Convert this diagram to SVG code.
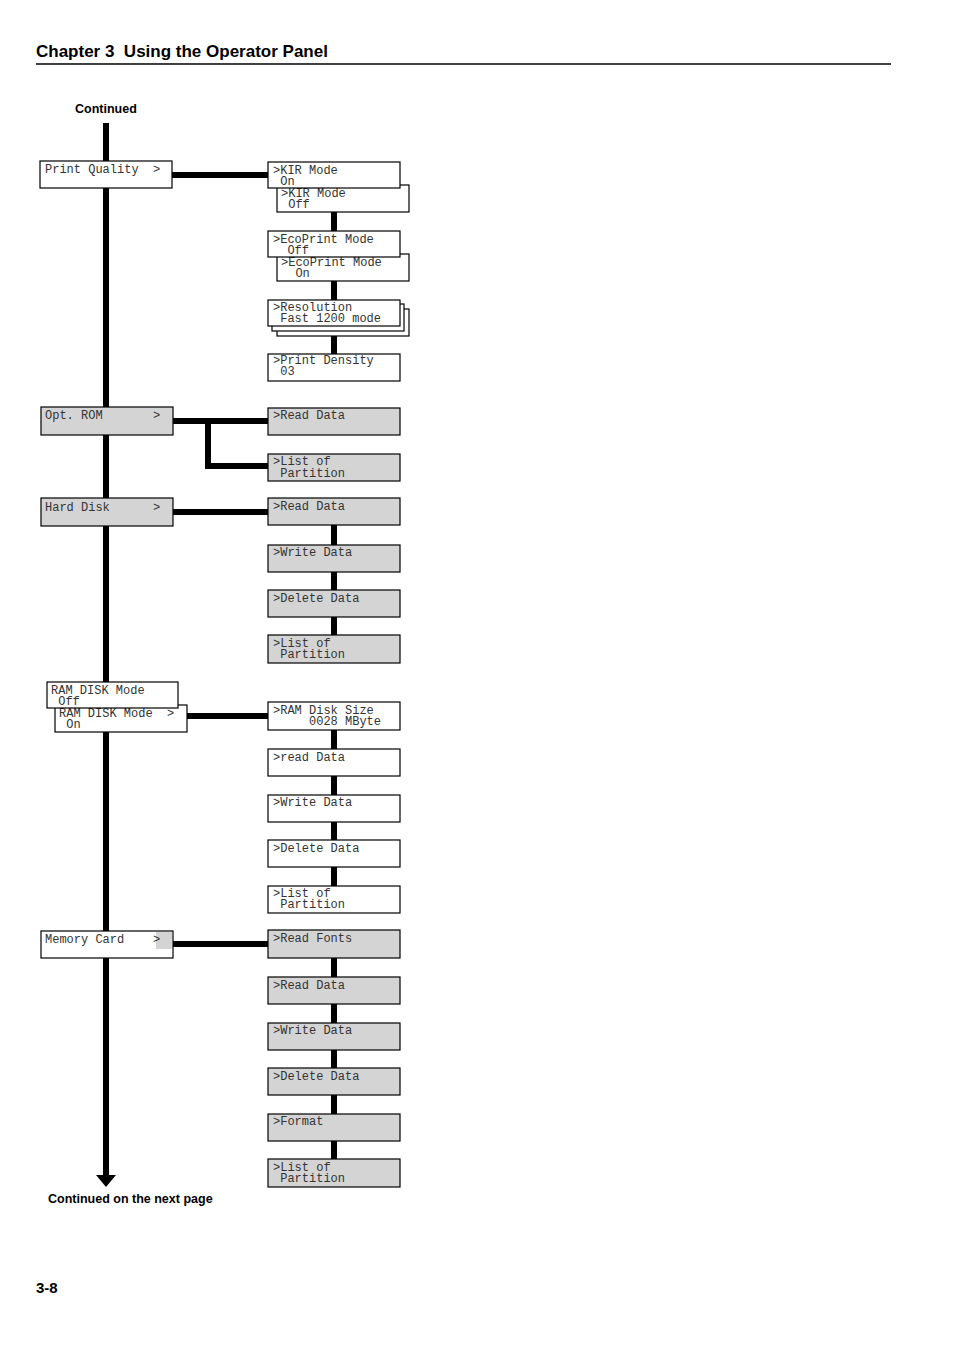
<svg xmlns="http://www.w3.org/2000/svg" width="954" height="1351" viewBox="0 0 954 1351">
<style>
.b{stroke:#000;stroke-width:1.2}
.w{fill:#fff}.g{fill:#d4d4d4}
.t{font-family:"Liberation Mono",monospace;font-size:12px;fill:#333;white-space:pre}
.h{font-family:"Liberation Sans",Arial,sans-serif;font-weight:bold;fill:#000;white-space:pre}
.c{stroke:#000;stroke-width:6;fill:none}
</style>
<rect width="954" height="1351" fill="#fff"/>
<text class="h" x="36" y="57" font-size="17">Chapter 3  Using the Operator Panel</text>
<line x1="36" y1="64" x2="891" y2="64" stroke="#000" stroke-width="1.5"/>
<text class="h" x="75" y="113" font-size="12.5">Continued</text>
<text class="h" x="48" y="1203" font-size="12.5">Continued on the next page</text>
<text class="h" x="36" y="1293" font-size="15">3-8</text>
<g id="connectors">
<line class="c" x1="106" y1="123" x2="106" y2="1177"/>
<polygon points="96,1175 116,1175 106,1187" fill="#000"/>
<line class="c" x1="172" y1="175" x2="268" y2="175"/>
<path class="c" d="M173 421H268M208 421V466H268"/>
<line class="c" x1="173" y1="512" x2="268" y2="512"/>
<line class="c" x1="187" y1="716" x2="268" y2="716"/>
<line class="c" x1="173" y1="944" x2="268" y2="944"/>
<path class="c" d="M334 212V231M334 281V300M334 336V354M334 525V545M334 572V590M334 617V635M334 730V749M334 776V795M334 822V840M334 867V886M334 958V977M334 1004V1023M334 1050V1068M334 1095V1114M334 1141V1159"/>
</g>
<g id="pq"><rect class="b w" x="40" y="161" width="132" height="27"/><text class="t" x="45" y="173">Print Quality  &gt;</text></g>
<g id="kir"><rect class="b w" x="277" y="185" width="132" height="27"/><text class="t" x="281" y="197">&gt;KIR Mode</text><text class="t" x="281" y="208"> Off</text>
<rect class="b w" x="268" y="162" width="132" height="26"/><text class="t" x="273" y="174">&gt;KIR Mode</text><text class="t" x="273" y="185"> On</text></g>
<g id="eco"><rect class="b w" x="277" y="254" width="132" height="27"/><text class="t" x="281" y="266">&gt;EcoPrint Mode</text><text class="t" x="281" y="277">  On</text>
<rect class="b w" x="268" y="231" width="132" height="26"/><text class="t" x="273" y="243">&gt;EcoPrint Mode</text><text class="t" x="273" y="254">  Off</text></g>
<g id="res"><rect class="b w" x="277" y="309" width="132" height="27"/><rect class="b w" x="272" y="304" width="132" height="27"/><rect class="b w" x="268" y="300" width="132" height="26"/><text class="t" x="273" y="311">&gt;Resolution</text><text class="t" x="273" y="322"> Fast 1200 mode</text></g>
<g id="pd"><rect class="b w" x="268" y="354" width="132" height="27"/><text class="t" x="273" y="364">&gt;Print Density</text><text class="t" x="273" y="375"> 03</text></g>
<g id="optrom"><rect class="b g" x="41" y="407" width="132" height="28"/><text class="t" x="45" y="419">Opt. ROM       &gt;</text></g>
<g id="or1"><rect class="b g" x="268" y="408" width="132" height="27"/><text class="t" x="273" y="419">&gt;Read Data</text></g>
<g id="or2"><rect class="b g" x="268" y="454" width="132" height="27"/><text class="t" x="273" y="465">&gt;List of</text><text class="t" x="273" y="477"> Partition</text></g>
<g id="hd"><rect class="b g" x="41" y="498" width="132" height="28"/><text class="t" x="45" y="511">Hard Disk      &gt;</text></g>
<g id="hd1"><rect class="b g" x="268" y="498" width="132" height="27"/><text class="t" x="273" y="510">&gt;Read Data</text></g>
<g id="hd2"><rect class="b g" x="268" y="545" width="132" height="27"/><text class="t" x="273" y="556">&gt;Write Data</text></g>
<g id="hd3"><rect class="b g" x="268" y="590" width="132" height="27"/><text class="t" x="273" y="602">&gt;Delete Data</text></g>
<g id="hd4"><rect class="b g" x="268" y="635" width="132" height="28"/><text class="t" x="273" y="647">&gt;List of</text><text class="t" x="273" y="658"> Partition</text></g>
<g id="ram"><rect class="b w" x="55" y="705" width="132" height="27"/><text class="t" x="59" y="717">RAM DISK Mode  &gt;</text><text class="t" x="59" y="728"> On</text>
<rect class="b w" x="47" y="682" width="131" height="26"/><text class="t" x="51" y="694">RAM DISK Mode</text><text class="t" x="51" y="705"> Off</text></g>
<g id="r1"><rect class="b w" x="268" y="702" width="132" height="28"/><text class="t" x="273" y="714">&gt;RAM Disk Size</text><text class="t" x="273" y="725">     0028 MByte</text></g>
<g id="r2"><rect class="b w" x="268" y="749" width="132" height="27"/><text class="t" x="273" y="761">&gt;read Data</text></g>
<g id="r3"><rect class="b w" x="268" y="795" width="132" height="27"/><text class="t" x="273" y="806">&gt;Write Data</text></g>
<g id="r4"><rect class="b w" x="268" y="840" width="132" height="27"/><text class="t" x="273" y="852">&gt;Delete Data</text></g>
<g id="r5"><rect class="b w" x="268" y="886" width="132" height="27"/><text class="t" x="273" y="897">&gt;List of</text><text class="t" x="273" y="908"> Partition</text></g>
<g id="mc"><rect class="b w" x="41" y="931" width="132" height="27"/><rect class="g" x="156" y="932" width="16" height="17"/><text class="t" x="45" y="943">Memory Card    &gt;</text></g>
<g id="m1"><rect class="b g" x="268" y="930" width="132" height="28"/><text class="t" x="273" y="942">&gt;Read Fonts</text></g>
<g id="m2"><rect class="b g" x="268" y="977" width="132" height="27"/><text class="t" x="273" y="989">&gt;Read Data</text></g>
<g id="m3"><rect class="b g" x="268" y="1023" width="132" height="27"/><text class="t" x="273" y="1034">&gt;Write Data</text></g>
<g id="m4"><rect class="b g" x="268" y="1068" width="132" height="27"/><text class="t" x="273" y="1080">&gt;Delete Data</text></g>
<g id="m5"><rect class="b g" x="268" y="1114" width="132" height="27"/><text class="t" x="273" y="1125">&gt;Format</text></g>
<g id="m6"><rect class="b g" x="268" y="1159" width="132" height="28"/><text class="t" x="273" y="1171">&gt;List of</text><text class="t" x="273" y="1182"> Partition</text></g>
</svg>
